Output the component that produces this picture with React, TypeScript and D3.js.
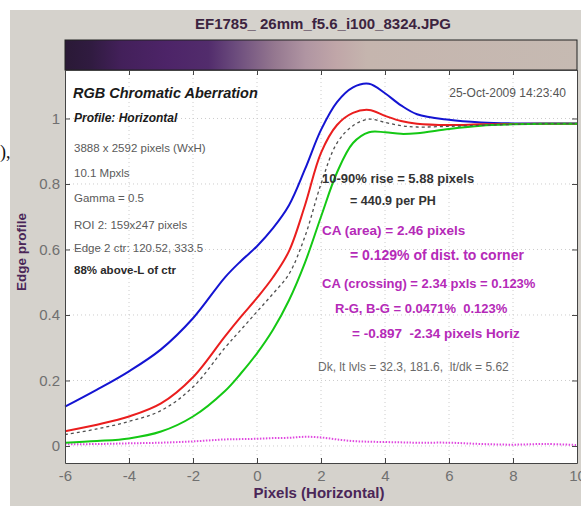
import { useEffect, useRef } from "react"
import * as d3 from "d3"

// sample positions along the edge (pixels)
const pixelPos = [-6, -5, -4, -3, -2, -1, -0.5, 0, 0.5, 1, 1.5, 2, 2.5, 3, 3.5, 4, 4.5, 5, 6, 7, 8, 9, 10]

const blueProfile = [0.12, 0.172, 0.228, 0.295, 0.39, 0.515, 0.565, 0.61, 0.665, 0.735, 0.845, 0.965, 1.05, 1.095, 1.106, 1.077, 1.04, 1.013, 0.996, 0.988, 0.985, 0.985, 0.985]
const redProfile = [0.045, 0.065, 0.09, 0.13, 0.21, 0.335, 0.395, 0.452, 0.515, 0.595, 0.735, 0.895, 0.98, 1.017, 1.026, 1.008, 0.992, 0.984, 0.98, 0.982, 0.983, 0.984, 0.984]
const avgProfile = [0.035, 0.052, 0.075, 0.108, 0.18, 0.3, 0.355, 0.41, 0.465, 0.525, 0.64, 0.8, 0.925, 0.978, 0.998, 0.988, 0.978, 0.974, 0.976, 0.979, 0.982, 0.984, 0.984]
const greenProfile = [0.01, 0.015, 0.023, 0.044, 0.09, 0.168, 0.222, 0.283, 0.355, 0.445, 0.56, 0.7, 0.835, 0.925, 0.958, 0.958, 0.953, 0.955, 0.968, 0.978, 0.982, 0.984, 0.984]
const diffProfile = [0.005, 0.006, 0.008, 0.01, 0.014, 0.02, 0.021, 0.022, 0.024, 0.025, 0.028, 0.026, 0.02, 0.015, 0.013, 0.012, 0.011, 0.01, 0.01, 0.006, 0.004, 0.006, 0.003]

const xTicks = [-6, -4, -2, 0, 2, 4, 6, 8, 10]
const yTicks = [0, 0.2, 0.4, 0.6, 0.8, 1]

const fileTitle = "EF1785_ 26mm_f5.6_i100_8324.JPG"
const infoLines = [
  "3888 x 2592 pixels (WxH)",
  "10.1 Mpxls",
  "Gamma = 0.5",
  "ROI 2: 159x247 pixels",
  "Edge 2 ctr: 120.52, 333.5",
]

export default function App() {
  const svgRef = useRef<SVGSVGElement>(null)
  const width = 581
  const height = 506

  useEffect(() => {
    if (!svgRef.current) return
    const svg = d3.select(svgRef.current)
    svg.selectAll("*").remove()

    const left = 65, right = 577, top = 70, bottom = 463
    const font = "'Liberation Sans', Arial, sans-serif"

    // page + window background
    svg.append("rect").attr("width", width).attr("height", height).attr("fill", "#ffffff")
    svg.append("rect").attr("x", 10).attr("y", 10).attr("width", width - 10).attr("height", height - 10).attr("fill", "#d5d2cc")
    svg.append("text").attr("x", 0).attr("y", 158).attr("font-family", "serif").attr("font-size", 18).attr("fill", "#111").text("),")

    const x = d3.scaleLinear().domain([-6, 10]).range([left, right])
    const y = d3.scaleLinear().domain([-0.052, 1.148]).range([bottom, top])

    // color bar
    const defs = svg.append("defs")
    const grad = defs.append("linearGradient").attr("id", "bar").attr("x1", "0").attr("x2", "1").attr("y1", "0").attr("y2", "0")
    const stops: [number, string][] = [
      [0, "#2a1936"], [0.05, "#301b40"], [0.11, "#43205a"], [0.2, "#4d2468"], [0.28, "#522c6c"],
      [0.33, "#6a4a7c"], [0.41, "#957890"], [0.47, "#b095a2"], [0.53, "#c0a6a8"], [0.59, "#c5b5ae"], [1, "#c6bab2"],
    ]
    stops.forEach(([o, c]) => grad.append("stop").attr("offset", o).attr("stop-color", c))
    svg.append("rect").attr("x", left).attr("y", 40).attr("width", right - left).attr("height", top - 40)
      .attr("fill", "url(#bar)").attr("stroke", "#222").attr("stroke-width", 1)

    // plot area
    svg.append("rect").attr("x", left).attr("y", top).attr("width", right - left).attr("height", bottom - top).attr("fill", "#ffffff")

    // grid
    const grid = svg.append("g").attr("stroke", "#cccccc").attr("stroke-dasharray", "1,3").attr("stroke-width", 1)
    xTicks.slice(1, -1).forEach(t => grid.append("line").attr("x1", x(t)).attr("x2", x(t)).attr("y1", top).attr("y2", bottom))
    yTicks.forEach(t => grid.append("line").attr("x1", left).attr("x2", right).attr("y1", y(t)).attr("y2", y(t)))

    // series
    const line = (vals: number[]) => d3.line<number>()
      .x((_, i) => x(pixelPos[i]))
      .y(d => y(d))
      .curve(d3.curveCatmullRom.alpha(0.5))(vals)

    svg.append("path").attr("d", line(diffProfile)).attr("fill", "none").attr("stroke", "#e048e0").attr("stroke-width", 2).attr("stroke-dasharray", "1.5,1.5")
    svg.append("path").attr("d", line(blueProfile)).attr("fill", "none").attr("stroke", "#1414d2").attr("stroke-width", 2)
    svg.append("path").attr("d", line(redProfile)).attr("fill", "none").attr("stroke", "#ea1e1e").attr("stroke-width", 2)
    svg.append("path").attr("d", line(greenProfile)).attr("fill", "none").attr("stroke", "#14c814").attr("stroke-width", 2)
    svg.append("path").attr("d", line(avgProfile)).attr("fill", "none").attr("stroke", "#505050").attr("stroke-width", 1.3).attr("stroke-dasharray", "3,3")

    // axes, MATLAB style inward ticks
    const styleAxis = (g: d3.Selection<SVGGElement, unknown, null, undefined>) => {
      g.select(".domain").attr("stroke", "#444")
      g.selectAll(".tick line").attr("stroke", "#444")
      g.selectAll(".tick text").attr("fill", "#707070").attr("font-size", 15).attr("font-family", font)
    }
    svg.append("g").attr("transform", `translate(0,${bottom})`)
      .call(d3.axisBottom(x).tickValues(xTicks).tickFormat(d => String(d)).tickSizeInner(-5).tickSizeOuter(0).tickPadding(7))
      .call(styleAxis)
    svg.append("g").attr("transform", `translate(0,${top})`)
      .call(d3.axisTop(x).tickValues(xTicks).tickFormat(() => "").tickSizeInner(-5).tickSizeOuter(0))
      .call(styleAxis)
    svg.append("g").attr("transform", `translate(${left},0)`)
      .call(d3.axisLeft(y).tickValues(yTicks).tickFormat(d => String(d)).tickSizeInner(-5).tickSizeOuter(0).tickPadding(5))
      .call(styleAxis)
    svg.append("g").attr("transform", `translate(${right},0)`)
      .call(d3.axisRight(y).tickValues(yTicks).tickFormat(() => "").tickSizeInner(-5).tickSizeOuter(0))
      .call(styleAxis)

    // titles
    svg.append("text").attr("x", 323).attr("y", 29).attr("text-anchor", "middle").attr("font-family", font)
      .attr("font-weight", "bold").attr("font-size", 15).attr("fill", "#3c2440").text(fileTitle)
    svg.append("text").attr("x", 319).attr("y", 498).attr("text-anchor", "middle").attr("font-family", font)
      .attr("font-weight", "bold").attr("font-size", 15).attr("fill", "#4a2658").text("Pixels (Horizontal)")
    svg.append("text").attr("transform", "translate(26,252) rotate(-90)").attr("text-anchor", "middle").attr("font-family", font)
      .attr("font-weight", "bold").attr("font-size", 13.5).attr("fill", "#4a2658").text("Edge profile")

    // annotations
    const txt = (tx: number, ty: number, s: string, size: number, color: string, weight = "normal", style = "normal", anchor = "start") =>
      svg.append("text").attr("x", tx).attr("y", ty).attr("font-family", font).attr("font-size", size)
        .attr("font-weight", weight).attr("font-style", style).attr("fill", color).attr("text-anchor", anchor)
        .style("white-space", "pre").text(s)

    txt(73, 98, "RGB Chromatic Aberration", 14.5, "#1a1a1a", "bold", "italic")
    txt(74, 122, "Profile: Horizontal", 12, "#1a1a1a", "bold", "italic")
    const infoY = [152, 177, 202, 229, 252]
    infoLines.forEach((s, i) => txt(74, infoY[i], s, 11.5, "#5a5a5a"))
    txt(74, 274, "88% above-L of ctr", 11.5, "#2a2a2a", "bold")
    txt(566, 97, "25-Oct-2009 14:23:40", 12, "#555", "normal", "normal", "end")

    txt(322, 183, "10-90% rise = 5.88 pixels", 13, "#333", "bold")
    txt(350, 205, "= 440.9 per PH", 12.5, "#333", "bold")
    const mag = "#b52ab8"
    txt(322, 235, "CA (area) = 2.46 pixels", 13.5, mag, "bold")
    txt(350, 260, "= 0.129% of dist. to corner", 14, mag, "bold")
    txt(322, 288, "CA (crossing) = 2.34 pxls = 0.123%", 13, mag, "bold")
    txt(335, 313, "R-G, B-G = 0.0471%  0.123%", 13, mag, "bold")
    txt(352, 338, "= -0.897  -2.34 pixels Horiz", 13.5, mag, "bold")
    txt(318, 371, "Dk, lt lvls = 32.3, 181.6,  lt/dk = 5.62", 12, "#6a6a6a")
  }, [])

  return (
    <svg
      ref={svgRef}
      width={width}
      height={height}
      viewBox={`0 0 ${width} ${height}`}
      style={{ position: "absolute", left: 0, top: 0 }}
      xmlns="http://www.w3.org/2000/svg"
    ></svg>
  )
}
